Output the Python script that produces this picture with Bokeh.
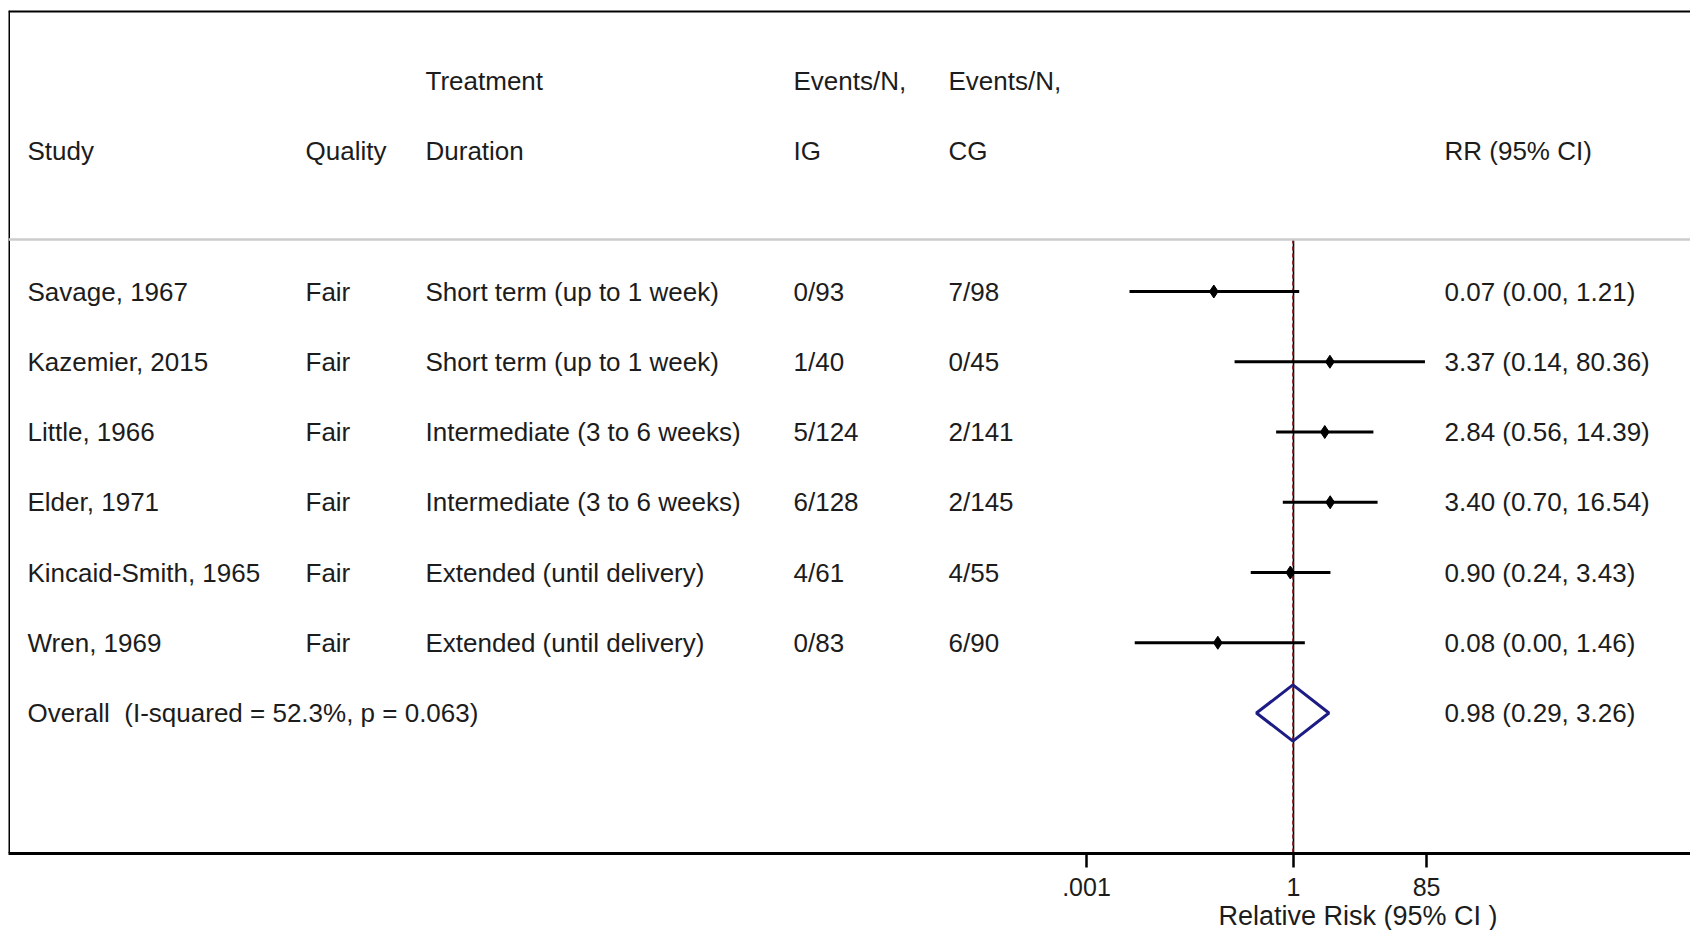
from bokeh.plotting import figure
from bokeh.models import Range1d, FixedTicker, Span, ColumnDataSource, Title
from bokeh.core.properties import value
from bokeh.embed import file_html
from bokeh.resources import INLINE

# ---------------- data ----------------
studies = ["Savage, 1967", "Kazemier, 2015", "Little, 1966", "Elder, 1971",
           "Kincaid-Smith, 1965", "Wren, 1969"]
quality = ["Fair", "Fair", "Fair", "Fair", "Fair", "Fair"]
duration = ["Short term (up to 1 week)", "Short term (up to 1 week)",
            "Intermediate (3 to 6 weeks)", "Intermediate (3 to 6 weeks)",
            "Extended (until delivery)", "Extended (until delivery)"]
events_ig = ["0/93", "1/40", "5/124", "6/128", "4/61", "0/83"]
events_cg = ["7/98", "0/45", "2/141", "2/145", "4/55", "6/90"]
rr = [0.07, 3.37, 2.84, 3.40, 0.90, 0.08]
ci_low_label = [0.00, 0.14, 0.56, 0.70, 0.24, 0.00]
ci_low_drawn = [0.0042, 0.14, 0.56, 0.70, 0.24, 0.005]
ci_high = [1.21, 80.36, 14.39, 16.54, 3.43, 1.46]
overall_rr = 0.98
overall_low = 0.29
overall_high = 3.26
overall_text = "Overall\u00a0 (I-squared = 52.3%, p = 0.063)"
tick_values = [0.001, 1, 85]
tick_labels = [".001", "1", "85"]
axis_title = "Relative Risk (95% CI )"

# ---------------- layout ----------------
W, H = 1690, 930
LEFT, TOP, BOTTOM_PX = 8, 10, 853
REF_PX, PX_PER_DEC = 1293.0, 69.0
FONT = value("Liberation Sans")
FS = "26px"
TXT = "#1c1c1c"


def px_to_x(px):
    return 10 ** ((px - REF_PX) / PX_PER_DEC)


Y_TOP, Y_BOT = -1.0, 11.0
ROW_PX = (BOTTOM_PX - TOP) / (Y_BOT - Y_TOP)


def py_to_y(py):
    return Y_TOP + (py - TOP) / ROW_PX


col_px = {"study": 27, "quality": 305, "dur": 425, "ig": 793, "cg": 948, "rr": 1444}
col = {k: px_to_x(v) for k, v in col_px.items()}
SEP = py_to_y(239)

p = figure(width=W, height=H, x_axis_type="log",
           x_range=Range1d(px_to_x(LEFT), px_to_x(W)),
           y_range=Range1d(Y_BOT, Y_TOP),
           y_axis_location=None,
           output_backend="svg", toolbar_location=None,
           min_border_left=LEFT, min_border_right=0,
           min_border_top=TOP, min_border_bottom=H - BOTTOM_PX)
p.outline_line_color = None
p.xgrid.visible = False
p.ygrid.visible = False
p.background_fill_color = "white"
p.border_fill_color = "white"

# frame lines
p.add_layout(Span(location=Y_TOP, dimension="width", line_color="black", line_width=4))
p.add_layout(Span(location=px_to_x(LEFT), dimension="height", line_color="black", line_width=3))
p.add_layout(Span(location=SEP, dimension="width", line_color="#cccccc", line_width=2.5))

# header
hdr = ColumnDataSource(dict(
    x=[col["dur"], col["ig"], col["cg"],
       col["study"], col["quality"], col["dur"], col["ig"], col["cg"], col["rr"]],
    y=[0, 0, 0, 1, 1, 1, 1, 1, 1],
    t=["Treatment", "Events/N,", "Events/N,",
       "Study", "Quality", "Duration", "IG", "CG", "RR (95% CI)"]))
p.text(x="x", y="y", text="t", source=hdr, text_font=FONT, text_font_size=FS,
       text_baseline="middle", text_align="left", text_color=TXT)

rows = [3 + i for i in range(len(studies))]
rr_text = [f"{a:.2f} ({b:.2f}, {c:.2f})" for a, b, c in zip(rr, ci_low_label, ci_high)]
for key, vals in [("study", studies), ("quality", quality), ("dur", duration),
                  ("ig", events_ig), ("cg", events_cg), ("rr", rr_text)]:
    src = ColumnDataSource(dict(x=[col[key]] * len(vals), y=rows, t=vals))
    p.text(x="x", y="y", text="t", source=src, text_font=FONT, text_font_size=FS,
           text_baseline="middle", text_align="left", text_color=TXT)

ov_row = rows[-1] + 1
p.text(x=[col["study"]], y=[ov_row], text=[overall_text], text_font=FONT,
       text_font_size=FS, text_baseline="middle", text_align="left", text_color=TXT)
p.text(x=[col["rr"]], y=[ov_row],
       text=[f"{overall_rr:.2f} ({overall_low:.2f}, {overall_high:.2f})"],
       text_font=FONT, text_font_size=FS, text_baseline="middle", text_align="left",
       text_color=TXT)

# null line and overall-effect dashed line
p.segment(x0=[1], y0=[SEP], x1=[1], y1=[Y_BOT], line_color="black", line_width=1.6)
p.segment(x0=[overall_rr], y0=[SEP], x1=[overall_rr], y1=[Y_BOT],
          line_color="#8b2020", line_width=1.6, line_dash="4 3")

# CIs and point estimates
ci = ColumnDataSource(dict(lo=ci_low_drawn, hi=ci_high, est=rr, y=rows))
p.segment(x0="lo", y0="y", x1="hi", y1="y", source=ci, line_color="black", line_width=3)
p.scatter(x="est", y="y", source=ci, marker="diamond", size=13,
          fill_color="black", line_color="black")

# overall diamond
h = 0.4
p.patch(x=[overall_low, overall_rr, overall_high, overall_rr],
        y=[ov_row, ov_row - h, ov_row, ov_row + h],
        fill_color=None, line_color="#1c1c84", line_width=3)

# x axis (ticks)
ax = p.xaxis[0]
ax.ticker = FixedTicker(ticks=tick_values)
ax.major_label_overrides = {v: l for v, l in zip(tick_values, tick_labels)}
ax.minor_tick_line_color = None
ax.major_tick_in = 0
ax.major_tick_out = 14
ax.major_tick_line_width = 2.5
ax.axis_line_width = 3
ax.axis_line_color = "black"
ax.major_tick_line_color = "black"
ax.major_label_text_font = "Liberation Sans"
ax.major_label_text_font_size = "25px"
ax.major_label_text_color = TXT
ax.major_label_standoff = 10

# axis title, placed under the plotted region (not centred on the whole frame)
title_left_px = 1218
p.add_layout(Title(text=axis_title, align="left",
                   offset=title_left_px - LEFT,
                   standoff=0, text_font="Liberation Sans",
                   text_font_size="27px", text_font_style="normal",
                   text_color=TXT), "below")

open("out.html", "w").write(file_html(p, INLINE))
